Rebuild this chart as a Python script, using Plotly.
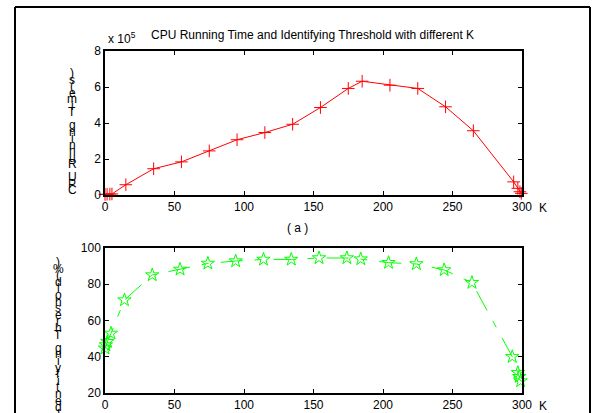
import plotly.graph_objects as go

# ---- data ----
k_values = [0, 1.5, 3.5, 5, 15, 35, 55, 75, 95, 115, 135, 155, 175, 185, 205, 225, 245, 265, 294, 297, 298.5, 299.5]
cpu_time = [3000, 4000, 5000, 6000, 57000, 146000, 184000, 245000, 307000, 347000, 393000, 486000, 592000, 632000, 610000, 592000, 490000, 357000, 73000, 37000, 18000, 9000]

k_values_b = [0, 0.7, 1.7, 4.3, 14, 34, 54, 74, 94, 114, 134, 154, 174, 184, 204, 224, 244, 264, 293, 297, 298, 299]
threshold = [44.7, 46.5, 48.3, 52.9, 71.3, 85.1, 88.2, 91.5, 92.8, 93.7, 93.7, 94.5, 94.5, 93.9, 91.9, 91.2, 87.9, 80.9, 40.0, 31.2, 29.0, 26.6]

x_ticks = [0, 50, 100, 150, 200, 250, 300]
title_text = "CPU Running Time and Identifying Threshold with different K"
ylabel_top = "CPU Running Time(s)"
ylabel_bottom = "Identifying Threshold(%)"

W, H = 595, 413
FONT = "Liberation Sans, Arial, sans-serif"

def py(p):
    return 1 - p / H

def px(p):
    return p / W

fig = go.Figure()

fig.add_trace(go.Scatter(
    x=k_values, y=[v / 1e5 for v in cpu_time],
    mode="lines+markers",
    line=dict(color="#FF0000", width=1),
    marker=dict(symbol="cross-thin-open", size=9, line=dict(color="#FF0000", width=1)),
    cliponaxis=False, xaxis="x", yaxis="y", showlegend=False))

fig.add_trace(go.Scatter(
    x=k_values_b, y=threshold,
    mode="lines+markers",
    line=dict(color="#00FF00", width=1, dash="22px,12px,7px,12px"),
    marker=dict(symbol="star-open", size=10, line=dict(color="#00FF00", width=1)),
    cliponaxis=False, xaxis="x2", yaxis="y2", showlegend=False))

axis_common = dict(
    showline=True, linecolor="black", linewidth=1.5, mirror="ticks",
    ticks="inside", ticklen=4, tickcolor="black", tickwidth=1,
    showgrid=False, zeroline=False, automargin=False,
    tickfont=dict(family=FONT, size=12, color="black"),
)

xdom = [px(105), px(522)]
fig.update_layout(
    width=W, height=H,
    margin=dict(l=0, r=0, t=0, b=0, autoexpand=False),
    paper_bgcolor="white", plot_bgcolor="white",
    xaxis=dict(domain=xdom, range=[0, 300], tickvals=x_ticks, anchor="y", **axis_common),
    yaxis=dict(domain=[py(195), py(51)], range=[0, 8], dtick=2, anchor="x", **axis_common),
    xaxis2=dict(domain=xdom, range=[0, 300], tickvals=x_ticks, anchor="y2", **axis_common),
    yaxis2=dict(domain=[py(393), py(248)], range=[20, 100], dtick=20, anchor="x2", **axis_common),
)

ann = []
def add_text(x, y, text, size=12, xanchor="center"):
    ann.append(dict(x=px(x), y=py(y), xref="paper", yref="paper", text=text,
                    showarrow=False, xanchor=xanchor, yanchor="middle",
                    font=dict(family=FONT, size=size, color="black")))

add_text(312, 35, title_text, 12)
add_text(106, 38, "x 10<sup>5</sup>", 12, xanchor="left")
add_text(543, 208, "K", 12)
add_text(543, 406, "K", 12)
add_text(297, 228, "( a )", 12)

# stacked y-labels (characters drawn top to bottom in reverse order)
def stacked(label, xc, ytop, step):
    chars = list(reversed(label))
    for i, ch in enumerate(chars):
        if ch == " ":
            continue
        add_text(xc, ytop + i * step, ch, 12)

stacked(ylabel_top, 72, 73, 6.5)
stacked(ylabel_bottom, 58, 262, 6.6)

fig.update_layout(annotations=ann)

# outer frame (three visible edges)
frame = dict(type="line", xref="paper", yref="paper", line=dict(color="black", width=2), layer="above")
fig.add_shape(x0=px(15), x1=px(590), y0=py(7), y1=py(7), **frame)
fig.add_shape(x0=px(15), x1=px(15), y0=0, y1=py(7), **frame)
fig.add_shape(x0=px(590), x1=px(590), y0=0, y1=py(7), **frame)

fig.write_html("out.html",
               config={"displayModeBar": False},
               post_script="document.body.style.margin='0';document.body.style.overflow='hidden';")
